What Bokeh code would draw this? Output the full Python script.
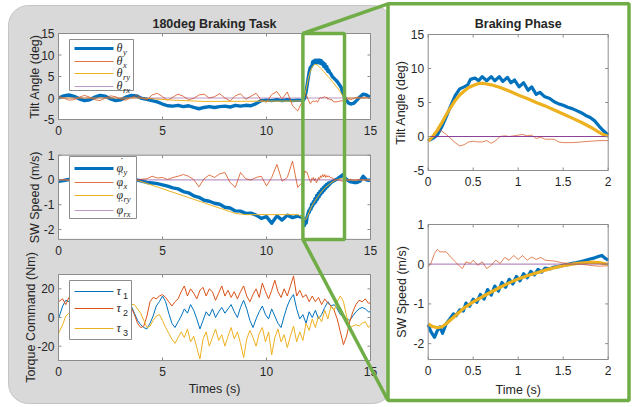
import numpy as np
from bokeh.plotting import figure
from bokeh.models import Range1d
from bokeh.core.properties import value
from bokeh.embed import file_html
from bokeh.resources import INLINE

# ---------------- data ----------------
brake_onset = 11.75

# braking phase, tilt angle (deg), t in s after onset
brake_tilt_y_t = [0.00, 0.05, 0.10, 0.15, 0.20, 0.25, 0.30, 0.35, 0.40,
                  0.44, 0.47, 0.52, 0.56, 0.60, 0.65, 0.70, 0.74, 0.79, 0.83,
                  0.88, 0.92, 0.96, 1.01, 1.06, 1.11, 1.15, 1.20, 1.24, 1.29,
                  1.35, 1.40, 1.45, 1.50, 1.55, 1.60, 1.65, 1.70, 1.75, 1.80,
                  1.85, 1.90, 1.95, 2.00]
brake_tilt_y = [-0.6, -0.3, 0.2, 1.4, 2.9, 4.5, 6.0, 7.0, 7.3,
                7.6, 8.4, 8.6, 8.2, 8.8, 8.2, 8.8, 8.2, 8.8, 8.1,
                8.7, 7.9, 8.3, 7.3, 7.9, 6.8, 7.3, 6.2, 6.5, 5.9,
                5.6, 5.1, 4.8, 4.6, 4.3, 4.1, 3.8, 3.5, 3.1, 2.8,
                2.3, 1.5, 0.8, 0.2]
brake_tilt_x_t = [0, 0.05, 0.1, 0.15, 0.2, 0.25, 0.3, 0.35, 0.4, 0.45,
                  0.5, 0.55, 0.6, 0.65, 0.7, 0.75, 0.8, 0.85, 0.9, 0.95,
                  1.0, 1.05, 1.1, 1.15, 1.2, 1.25, 1.3, 1.4, 1.45, 1.5,
                  1.6, 1.7, 1.8, 1.9, 2.0]
brake_tilt_x = [-0.5, 0.2, 0.9, 0.8, 0.3, -0.3, -0.9, -1.4, -1.2, -0.8,
                -0.7, -0.8, -0.8, -0.6, -1.0, -0.6, 0.0, 0.1, 0.0, 0.1,
                0.2, 0.3, 0.1, 0.2, -0.3, -0.1, -0.4, -0.4, -0.8, -0.9,
                -0.9, -0.8, -0.7, -0.6, -0.6]
brake_tilt_ry_t = [0, 0.05, 0.1, 0.15, 0.2, 0.25, 0.3, 0.35, 0.4, 0.45,
                   0.5, 0.56, 0.62, 0.7, 0.8, 0.9, 1.0, 1.1, 1.2, 1.3,
                   1.4, 1.5, 1.6, 1.7, 1.8, 1.9, 1.95, 2.0]
brake_tilt_ry = [-0.7, 0.0, 0.9, 2.0, 3.2, 4.3, 5.3, 6.1, 6.7, 7.2,
                 7.5, 7.8, 7.8, 7.6, 7.2, 6.7, 6.1, 5.6, 5.0, 4.5,
                 3.9, 3.3, 2.7, 2.1, 1.4, 0.6, 0.25, 0.05]

# braking phase, SW speed (m/s)
brake_speed_y_t = [0.00, 0.03, 0.07, 0.10, 0.13, 0.16, 0.20, 0.24, 0.28, 0.31,
                   0.35, 0.39, 0.42, 0.46, 0.50, 0.54, 0.58, 0.62, 0.66, 0.70,
                   0.74, 0.78, 0.82, 0.86, 0.90, 0.94, 0.98, 1.02, 1.06, 1.10,
                   1.14, 1.18, 1.22, 1.26, 1.30, 1.35, 1.40, 1.45, 1.50, 1.55,
                   1.60, 1.65, 1.70, 1.75, 1.80, 1.85, 1.90, 1.93, 1.96, 2.00]
brake_speed_y = [-1.52, -1.70, -1.84, -1.68, -1.58, -1.74, -1.50, -1.38, -1.25, -1.30,
                 -1.15, -1.18, -0.98, -1.06, -0.88, -0.96, -0.76, -0.88, -0.64, -0.78,
                 -0.55, -0.68, -0.46, -0.58, -0.38, -0.50, -0.31, -0.42, -0.24, -0.34,
                 -0.18, -0.27, -0.13, -0.20, -0.10, -0.12, -0.07, -0.06, -0.03, -0.01,
                 0.02, 0.04, 0.07, 0.10, 0.13, 0.16, 0.20, 0.22, 0.16, 0.10]
brake_speed_x_t = [0, 0.03, 0.07, 0.1, 0.13, 0.2, 0.25, 0.3, 0.35, 0.38,
                   0.42, 0.47, 0.5, 0.55, 0.6, 0.65, 0.7, 0.75, 0.8, 0.85,
                   0.9, 0.95, 1.0, 1.05, 1.1, 1.15, 1.2, 1.25, 1.3, 1.4,
                   1.5, 1.6, 1.7, 1.8, 1.9, 2.0]
brake_speed_x = [-0.07, 0.02, 0.27, 0.37, 0.31, 0.31, 0.18, 0.06, -0.05, -0.11,
                 0.06, 0.02, 0.10, -0.03, 0.06, -0.11, -0.03, 0.10, 0.02, 0.17,
                 0.10, 0.22, 0.12, 0.22, 0.10, 0.18, 0.12, 0.17, 0.10, 0.08,
                 0.03, 0.02, 0.00, -0.03, -0.05, -0.04]
brake_speed_ry_t = [0, 0.05, 0.1, 0.15, 0.2, 0.3, 0.4, 0.5, 0.6, 0.7,
                    0.8, 0.9, 1.0, 1.1, 1.2, 1.3, 1.4, 1.5, 1.6, 1.7,
                    1.8, 1.9, 2.0]
brake_speed_ry = [-1.5, -1.57, -1.6, -1.58, -1.5, -1.3, -1.1, -0.95, -0.82, -0.7,
                  -0.58, -0.47, -0.37, -0.29, -0.22, -0.15, -0.09, -0.04, 0.0, 0.03,
                  0.05, 0.04, 0.0]

# full task, before braking
pre_t = [0.0, 0.25, 0.5, 0.75, 1.0, 1.25, 1.5, 1.75, 2.0, 2.25,
         2.5, 2.75, 3.0, 3.25, 3.5, 3.75, 4.0, 4.25, 4.5, 4.75,
         5.0, 5.25, 5.5, 5.75, 6.0, 6.25, 6.5, 6.75, 7.0, 7.25,
         7.5, 7.75, 8.0, 8.25, 8.5, 8.75, 9.0, 9.25, 9.5, 9.75,
         10.0, 10.25, 10.5, 10.75, 11.0, 11.25, 11.5]
tilt_y_pre = [0.0, 0.5, 0.7, 0.4, -0.2, -0.6, -0.4, 0.2, 0.6, 0.4,
              -0.2, -0.6, -0.4, 0.2, 0.6, 0.5, -0.1, -0.3, -0.6, -0.9,
              -1.4, -1.8, -1.9, -1.7, -2.0, -1.8, -2.2, -2.5, -2.2, -2.0,
              -2.2, -2.0, -1.9, -2.1, -1.7, -1.9, -1.7, -1.8, -1.3, -0.6,
              -0.5, -0.6, -0.4, -0.6, -0.4, -0.6, -0.5]
tilt_x_pre = [0.4, 0.0, -0.5, -0.4, 0.2, 0.6, 0.2, -0.4, -0.6, 0.0,
              0.5, 0.3, -0.3, -0.5, 0.1, 0.6, 0.0, -0.4, 0.7, 1.1,
              0.3, -0.5, 0.2, 0.9, 0.4, -0.4, -0.1, 0.7, 0.9, 0.0,
              0.3, 1.0, 0.0, -0.7, 0.5, 1.0, -0.3, 0.4, 1.1, -0.5,
              -1.0, 0.8, 1.5, -0.2, 1.4, -1.8, -3.0]
speed_y_pre = [-0.05, -0.02, 0.02, -0.03, -0.05, -0.02, 0.0, -0.03, -0.02, 0.0,
               -0.02, 0.0, 0.02, 0.0, -0.02, 0.0, -0.05, -0.1, -0.12, -0.15,
               -0.2, -0.25, -0.32, -0.36, -0.47, -0.52, -0.64, -0.7, -0.82, -0.86,
               -0.94, -0.98, -1.1, -1.13, -1.25, -1.26, -1.35, -1.34, -1.42, -1.55,
               -1.48, -1.75, -1.45, -1.62, -1.42, -1.52, -1.46]
speed_x_pre = [0.0, 0.02, -0.02, 0.01, 0.0, -0.02, 0.02, 0.0, 0.01, -0.01,
               0.0, 0.02, 0.0, -0.02, 0.01, 0.0, 0.03, 0.05, 0.15, 0.08,
               0.1, 0.02, 0.1, 0.15, 0.22, 0.15, 0.02, -0.28, 0.05, 0.2,
               0.1, 0.25, 0.3, -0.1, -0.3, 0.3, 0.05, 0.0, 0.1, 0.15,
               -0.24, 0.1, 0.63, -0.05, 0.1, 0.76, -0.3]
tilt_ry_pre_t = [0.0, 4.0, 5.5, 7.0, 11.5]
tilt_ry_pre = [0.0, 0.0, -0.5, -0.8, -0.7]
speed_ry_pre_t = [0.0, 3.75, 8.5, 9.0, 11.5]
speed_ry_pre = [0.0, 0.0, -1.35, -1.4, -1.4]

# full task, after braking
post_t = [13.85, 13.95, 14.05, 14.2, 14.35, 14.5, 14.65, 14.8, 14.9, 15.0]
tilt_y_post = [-0.6, -1.2, -1.4, -1.2, -0.5, 0.3, 0.9, 0.7, 0.4, 0.2]
tilt_x_post = [-0.4, -0.2, -0.4, -0.1, 0.2, 0.1, 0.0, 0.2, 0.1, 0.0]
speed_y_post = [0.02, -0.03, -0.08, -0.1, -0.1, -0.05, 0.15, 0.0, -0.02, 0.0]
speed_x_post = [0.02, 0.0, 0.03, -0.02, 0.0, 0.02, 0.0, 0.01, 0.0, 0.0]
ref_post_t = [13.85, 15.0]
ref_post = [0.0, 0.0]
rx_t = [0.0, 15.0]
rx_val = [0.0, 0.0]

# torque commands (Nm)
torque_t = [0.0, 0.2, 0.35, 0.5, 0.65, 0.8, 0.95, 1.1, 1.25, 1.4,
            1.55, 1.7, 1.85, 2.0, 2.15, 2.3, 2.45, 2.6, 2.75, 2.9,
            3.05, 3.2, 3.35, 3.5, 3.65, 3.8, 3.95, 4.1, 4.25, 4.4,
            4.55, 4.7, 4.85, 5.0, 5.15, 5.3, 5.45, 5.6, 5.75, 5.9,
            6.05, 6.2, 6.35, 6.5, 6.65, 6.8, 6.95, 7.1, 7.25, 7.4,
            7.55, 7.7, 7.85, 8.0, 8.15, 8.3, 8.45, 8.6, 8.75, 8.9,
            9.05, 9.2, 9.35, 9.5, 9.65, 9.8, 9.95, 10.1, 10.25, 10.4,
            10.55, 10.7, 10.85, 11.0, 11.15, 11.3, 11.45, 11.6, 11.75, 11.9,
            12.05, 12.2, 12.35, 12.5, 12.65, 12.8, 12.95, 13.1, 13.25, 13.4,
            13.55, 13.7, 13.85, 14.0, 14.15, 14.3, 14.45, 14.6, 14.75, 14.9,
            15.0]
tau1 = [-1, 8, 12, 11, 9, 6, 3, 1, -2, 0,
        3, 5, 2, -1, -3, -1, 2, 4, 6, 8,
        9, 10, 9, 8, 3, -2, -5, -7, -8, -4,
        1, 8, 11, 15, 11, 3, -4, -7, -3, 1,
        6, 3, 9, 5, -1, -8, -2, 4, 1, 6,
        0, 4, 7, 3, 6, 9, 4, 0, 7, 12,
        6, -2, -7, -1, 4, 8, 2, -1, 6, 1,
        -4, -7, 1, 8, 13, 16, 6, -1, 2, -4,
        4, 0, 5, -1, 2, 7, 11, 8, 9, 6,
        2, 1, -1, -2, 1, 4, 6, 7, 6, 4,
        4]
tau2 = [11, 13, 9, 14, 12, 10, 8, 6, 4, 5,
        7, 9, 6, 3, 1, 3, 5, 6, 8, 9,
        8, 7, 7, 7, 2, -4, -7, -6, 1, 11,
        14, 13, 15, 16, 14, 11, 8, 11, 13, 18,
        22, 15, 20, 17, 13, 19, 21, 15, 20, 18,
        12, 17, 22, 15, 19, 14, 18, 13, 18, 22,
        15, 11, 16, 20, 14, 24, 18, 13, 19, 26,
        18, 14, 20, 15, 22, 29, 15, 19, 14, 16,
        11, 15, 11, 14, 9, 13, 10, 8, 5, -1,
        -10, -19, -13, -3, 4, 9, 12, 11, 13, 10,
        10]
tau3 = [-11, -5, 1, 3, 4, 2, 0, -2, -1, 1,
        3, 4, 2, 0, -1, 1, 3, 5, 7, 8,
        9, 10, 10, 9, 9, 6, 3, -2, -7, -6,
        -2, 1, 2, -2, -7, -11, -15, -18, -14, -10,
        -14, -8, -17, -13, -21, -29, -15, -10, -20, -14,
        -8, -16, -12, -20, -13, -7, -15, -10, -18, -28,
        -15, -9, -14, -20, -11, -7, -17, -10, -26, -14,
        -8, -17, -12, -21, -13, -6, -17, -10, -16, -4,
        -9, -1, -7, 1, -3, 5, -1, 8, 5, 11,
        15, 11, 1, -7, -6, -5, -6, -4, -3, -7,
        -5]

left_xticks = [0, 5, 10, 15]
left_xtick_labels = ["0", "5", "10", "15"]
brake_xticks = [0, 0.5, 1, 1.5, 2]
brake_xtick_labels = ["0", "0.5", "1", "1.5", "2"]
tilt_yticks = [-5, 0, 5, 10, 15]
tilt_ytick_labels = ["-5", "0", "5", "10", "15"]
speed_yticks = [-2, -1, 0, 1]
speed_ytick_labels = ["-2", "-1", "0", "1"]
torque_yticks = [-20, 0, 20]
torque_ytick_labels = ["-20", "0", "20"]

# ---------------- figure ----------------
W, H = 633, 407
BLUE, ORANGE, YELLOW, PURPLE = "#0072BD", "#D95319", "#EDB120", "#7E2F8E"
GREEN = "#70AD47"
AX = "#8c8c8c"
TXT = "#262626"
SANS = value("Liberation Sans")
SERIF = value("Liberation Serif")

p = figure(width=W, height=H, x_range=Range1d(0, W), y_range=Range1d(0, H),
           output_backend="svg", toolbar_location=None, min_border=0,
           x_axis_type=None, y_axis_type=None)
p.outline_line_color = None
p.background_fill_color = "white"
p.border_fill_color = "white"


def Y(ypx):
    return H - ypx


# background panels
p.quad(left=[8], right=[392], top=[Y(5)], bottom=[Y(403)], fill_color="#D9D9D9",
       line_color="#C4C4C4", line_width=1, border_radius=20)
p.quad(left=[387.5], right=[628.5], top=[Y(3.3)], bottom=[Y(400)],
       fill_color="white", line_color=None)


class Panel:
    def __init__(self, left, right, top, bottom, xs, ys):
        self.l, self.r, self.t, self.b = left, right, top, bottom
        self.xs, self.ys = xs, ys
        self.s = p.subplot(x_source=Range1d(*xs), y_source=Range1d(*ys),
                           x_target=Range1d(left, right),
                           y_target=Range1d(Y(bottom), Y(top)))
        self.s.quad(left=[xs[0]], right=[xs[1]], bottom=[ys[0]], top=[ys[1]],
                    fill_color="white", line_color=None)

    def line(self, x, y, color, width, alpha=1.0):
        self.s.line(x=x, y=y, line_color=color, line_width=width, line_alpha=alpha,
                    line_join="round")

    def finish(self, xt, xl, yt, yl, fs="12px"):
        s = self.s
        xs, ys = self.xs, self.ys
        kx = (xs[1] - xs[0]) / (self.r - self.l)
        ky = (ys[1] - ys[0]) / (self.b - self.t)
        L = 3
        n, m = len(xt), len(yt)
        s.segment(x0=xt, y0=[ys[0]] * n, x1=xt, y1=[ys[0] + L * ky] * n, line_color=AX)
        s.segment(x0=xt, y0=[ys[1]] * n, x1=xt, y1=[ys[1] - L * ky] * n, line_color=AX)
        s.segment(x0=[xs[0]] * m, y0=yt, x1=[xs[0] + L * kx] * m, y1=yt, line_color=AX)
        s.segment(x0=[xs[1]] * m, y0=yt, x1=[xs[1] - L * kx] * m, y1=yt, line_color=AX)
        s.quad(left=[xs[0]], right=[xs[1]], bottom=[ys[0]], top=[ys[1]],
               fill_color=None, line_color=AX, line_width=1)
        s.text(x=xt, y=[ys[0]] * n, text=xl, y_offset=11, text_align="center",
               text_baseline="middle", text_font=SANS, text_font_size=value(fs),
               text_color=TXT)
        s.text(x=[xs[0]] * m, y=yt, text=yl, x_offset=-4, text_align="right",
               text_baseline="middle", text_font=SANS, text_font_size=value(fs),
               text_color=TXT)


def shift(ts):
    return [brake_onset + t for t in ts]


# ---- left: tilt ----
a1 = Panel(58, 370, 33, 119, (0, 15), (-5, 15))
a1.line(pre_t + shift(brake_tilt_y_t) + post_t, tilt_y_pre + brake_tilt_y + tilt_y_post, BLUE, 3.4)
a1.line(pre_t + shift(brake_tilt_x_t) + post_t, tilt_x_pre + brake_tilt_x + tilt_x_post, ORANGE, 1, 0.8)
a1.line(tilt_ry_pre_t + shift(brake_tilt_ry_t) + ref_post_t, tilt_ry_pre + brake_tilt_ry + ref_post, YELLOW, 1)
a1.line(rx_t, rx_val, PURPLE, 1.2, 0.5)
a1.finish(left_xticks, left_xtick_labels, tilt_yticks, tilt_ytick_labels)

# ---- left: speed ----
a2 = Panel(58, 370, 154.7, 238.9, (0, 15), (-2.4, 1))
a2.line(pre_t + shift(brake_speed_y_t) + post_t, speed_y_pre + brake_speed_y + speed_y_post, BLUE, 3.4)
a2.line(pre_t + shift(brake_speed_x_t) + post_t, speed_x_pre + brake_speed_x + speed_x_post, ORANGE, 1, 0.8)
a2.line(speed_ry_pre_t + shift(brake_speed_ry_t) + ref_post_t, speed_ry_pre + brake_speed_ry + ref_post, YELLOW, 1)
a2.line(rx_t, rx_val, PURPLE, 1.2, 0.5)
a2.finish(left_xticks, left_xtick_labels, speed_yticks, speed_ytick_labels)

# ---- left: torque ----
a3 = Panel(58, 370, 274, 360, (0, 15), (-30, 30))
a3.line(torque_t, tau1, BLUE, 1)
a3.line(torque_t, tau2, ORANGE, 1)
a3.line(torque_t, tau3, YELLOW, 1)
a3.finish(left_xticks, left_xtick_labels, torque_yticks, torque_ytick_labels)

# ---- right: braking tilt ----
b1 = Panel(427.7, 607.7, 34, 170, (0, 2), (-5, 15))
b1.line(brake_tilt_y_t, brake_tilt_y, BLUE, 3.2)
b1.line(brake_tilt_x_t, brake_tilt_x, ORANGE, 0.9, 0.8)
b1.line(brake_tilt_ry_t, brake_tilt_ry, YELLOW, 3.2)
b1.line([0, 2], [0, 0], PURPLE, 1, 0.9)
b1.finish(brake_xticks, brake_xtick_labels, tilt_yticks, tilt_ytick_labels)

# ---- right: braking speed ----
b2 = Panel(427.7, 607.7, 224, 359, (0, 2), (-2.4, 1))
b2.line(brake_speed_y_t, brake_speed_y, BLUE, 3.2)
b2.line(brake_speed_x_t, brake_speed_x, ORANGE, 0.9, 0.8)
b2.line(brake_speed_ry_t, brake_speed_ry, YELLOW, 3.2)
b2.line([0, 2], [0, 0], PURPLE, 1.2, 0.55)
b2.finish(brake_xticks, brake_xtick_labels, speed_yticks, speed_ytick_labels)


# ---------------- legends ----------------
def txt(x, y, s, size, font=SANS, style="normal", align="left", baseline="middle", angle=0.0, color=TXT):
    p.text(x=[x], y=[Y(y)], text=[s], text_font=font, text_font_size=value(size),
           text_font_style=style, text_align=align, text_baseline=baseline,
           angle=angle, text_color=color)


def legend_box(l, t, r, b):
    p.quad(left=[l], right=[r], top=[Y(t)], bottom=[Y(b)], fill_color="white",
           line_color=AX, line_width=1)


def legend_line(y, color, width, alpha=1.0):
    p.line(x=[74, 113], y=[Y(y), Y(y)], line_color=color, line_width=width, line_alpha=alpha)


legend_box(69, 39, 133, 90)
for yy, c, w, a, sb in [(48, BLUE, 3, 1, "y"), (61, ORANGE, 1, 0.8, "x"),
                        (73, YELLOW, 1, 1, "ry"), (86, PURPLE, 1.2, 0.5, "rx")]:
    legend_line(yy, c, w, a)
    txt(116, yy - 1, "θ", "12px", SERIF, "italic")
    txt(122.5, yy + 3, sb, "8.5px", SERIF, "italic")

legend_box(69, 156, 136, 218)
for yy, c, w, a, sb in [(168, BLUE, 3, 1, "y"), (182, ORANGE, 1, 0.8, "x"),
                        (195, YELLOW, 1, 1, "ry"), (210, PURPLE, 1.2, 0.5, "rx")]:
    legend_line(yy, c, w, a)
    txt(116, yy - 1, "φ", "12px", SERIF, "italic")
    txt(119.5, yy - 8, "˙", "11px", SERIF, "normal")
    txt(123, yy + 3, sb, "8.5px", SERIF, "italic")

legend_box(69, 280, 131, 339)
for yy, c, sb in [(291, BLUE, "1"), (308, ORANGE, "2"), (328, YELLOW, "3")]:
    legend_line(yy, c, 1.2)
    txt(116, yy - 1, "τ", "12.5px", SERIF, "italic")
    txt(122.5, yy + 4, sb, "9px", SANS)

# ---------------- labels & titles ----------------
half_pi = np.pi / 2
txt(214, 23, "180deg Braking Task", "12.5px", SANS, "bold", "center")
txt(517.7, 23, "Braking Phase", "12.5px", SANS, "bold", "center")
txt(34, 76, "Tilt Angle (deg)", "12.5px", SANS, align="center", angle=half_pi)
txt(34, 197, "SW Speed (m/s)", "12.5px", SANS, align="center", angle=half_pi)
txt(30, 317, "Torque Command (Nm)", "12.5px", SANS, align="center", angle=half_pi)
txt(214, 388, "Times (s)", "12.5px", SANS, align="center")
txt(400, 102, "Tilt Angle (deg)", "12.5px", SANS, align="center", angle=half_pi)
txt(401, 291.5, "SW Speed (m/s)", "12.5px", SANS, align="center", angle=half_pi)
txt(517.7, 389, "Time (s)", "12.5px", SANS, align="center")

# ---------------- zoom box & connectors ----------------
zl = 58 + brake_onset * (312 / 15)
zr = 58 + (brake_onset + 2) * (312 / 15)
p.quad(left=[zl], right=[zr], top=[Y(33)], bottom=[Y(238.9)], fill_color=None,
       line_color=GREEN, line_width=3.5)
p.segment(x0=[zl, zl], y0=[Y(33), Y(238.9)], x1=[387.5, 387.5], y1=[Y(3.3), Y(400)],
          line_color=GREEN, line_width=3.5)
p.quad(left=[387.5], right=[628.5], top=[Y(3.3)], bottom=[Y(400)],
       fill_color=None, line_color=GREEN, line_width=3.5)

open("out.html", "w").write(file_html(p, INLINE))
